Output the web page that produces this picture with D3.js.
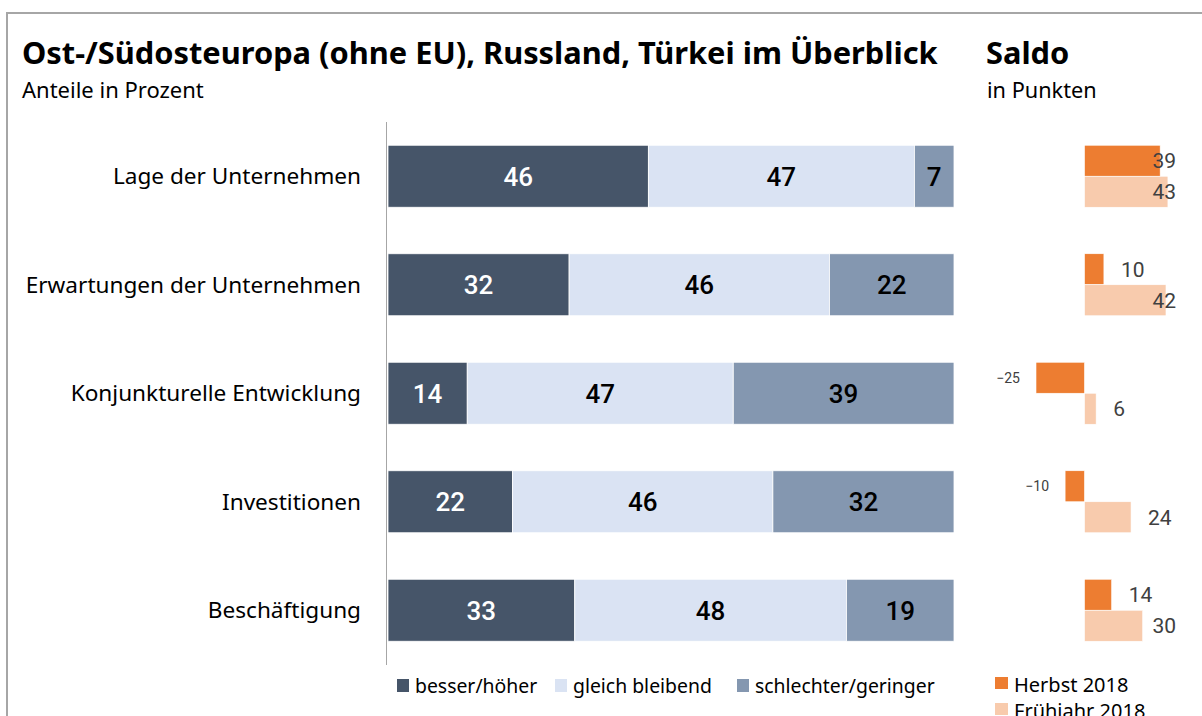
<!DOCTYPE html>
<html lang="de">
<head>
<meta charset="UTF-8">
<title>Ost-/Südosteuropa im Überblick</title>
<script src="https://d3js.org/d3.v7.min.js"></script>
<style>
  body { margin: 0; background: #fff; }
  svg { display: block; font-family: "Noto Sans", sans-serif; }
</style>
</head>
<body>
<div id="chart"></div>
<script>
// data
const categories = ["Lage der Unternehmen", "Erwartungen der Unternehmen", "Konjunkturelle Entwicklung", "Investitionen", "Beschäftigung"];
const besser = [46, 32, 14, 22, 33];
const gleich = [47, 46, 47, 46, 48];
const schlechter = [7, 22, 39, 32, 19];
const herbst = [39, 10, -25, -10, 14];
const fruehjahr = [43, 42, 6, 24, 30];
const stackNames = ["besser/höher", "gleich bleibend", "schlechter/geringer"];
const saldoNames = ["Herbst 2018", "Frühjahr 2018"];

const stackColors = ["#465569", "#dae3f3", "#8497b0"];
const stackText = ["#ffffff", "#000000", "#000000"];
const saldoColors = ["#ed7d31", "#f8cbad"];

const W = 1202, H = 716;
const svg = d3.select("#chart").append("svg").attr("width", W).attr("height", H);

// frame
svg.append("rect")
  .attr("x", 7).attr("y", 13).attr("width", 1300).attr("height", 800)
  .attr("fill", "none").attr("stroke", "#a6a6a6").attr("stroke-width", 2);

// titles
svg.append("text").attr("x", 22).attr("y", 64)
  .style("font-size", "30.8px").style("font-weight", "bold").attr("fill", "#000")
  .text("Ost-/Südosteuropa (ohne EU), Russland, Türkei im Überblick");
svg.append("text").attr("x", 22).attr("y", 98)
  .style("font-size", "22px").attr("fill", "#000").text("Anteile in Prozent");
svg.append("text").attr("x", 986).attr("y", 64)
  .style("font-size", "30.8px").style("font-weight", "bold").attr("fill", "#000").text("Saldo");
svg.append("text").attr("x", 987).attr("y", 98)
  .style("font-size", "21.7px").attr("fill", "#000").text("in Punkten");

// scales
const y = d3.scaleBand().domain(categories).range([122, 664.5]).padding(0);
const barH = 62;
const x = d3.scaleLinear().domain([0, 100]).range([388, 954]);
const xs = d3.scaleLinear().domain([-30, 50]).range([1084.5 - 30 * 1.94, 1084.5 + 50 * 1.94]);

// stacked rows
const rows = categories.map((c, i) => ({ cat: c, vals: [besser[i], gleich[i], schlechter[i]] }));
const segs = [];
rows.forEach(r => {
  let acc = 0;
  r.vals.forEach((v, k) => { segs.push({ cat: r.cat, k: k, v: v, x0: acc, x1: acc + v }); acc += v; });
});

const gBars = svg.append("g");
gBars.selectAll("rect").data(segs).enter().append("rect")
  .attr("x", d => x(d.x0))
  .attr("width", d => x(d.x1) - x(d.x0))
  .attr("y", d => y(d.cat) + (y.bandwidth() - barH) / 2)
  .attr("height", barH)
  .attr("fill", d => stackColors[d.k])
  .attr("stroke", "#fff").attr("stroke-width", 0.8);

gBars.selectAll("text").data(segs).enter().append("text")
  .attr("x", d => x((d.x0 + d.x1) / 2))
  .attr("y", d => y(d.cat) + y.bandwidth() / 2 + 9.5)
  .attr("text-anchor", "middle")
  .style("font-family", "Roboto, sans-serif").style("font-size", "26px").style("font-weight", "500")
  .attr("fill", d => stackText[d.k])
  .text(d => d.v);

// y axis line + category labels
svg.append("line").attr("x1", 386.5).attr("x2", 386.5).attr("y1", 122).attr("y2", 665)
  .attr("stroke", "#a6a6a6").attr("stroke-width", 1);
svg.append("g").selectAll("text").data(categories).enter().append("text")
  .attr("x", 361).attr("y", d => y(d) + y.bandwidth() / 2 + 8)
  .attr("text-anchor", "end").style("font-size", "22.6px").attr("fill", "#000")
  .text(d => d);

// saldo bars
const saldo = [];
categories.forEach((c, i) => {
  saldo.push({ cat: c, s: 0, v: herbst[i] });
  saldo.push({ cat: c, s: 1, v: fruehjahr[i] });
});
const half = barH / 2;
const gS = svg.append("g");
gS.selectAll("rect").data(saldo).enter().append("rect")
  .attr("x", d => xs(Math.min(0, d.v)))
  .attr("width", d => Math.abs(xs(d.v) - xs(0)))
  .attr("y", d => y(d.cat) + (y.bandwidth() - barH) / 2 + d.s * half)
  .attr("height", half)
  .attr("fill", d => saldoColors[d.s])
  .attr("stroke", "#fff").attr("stroke-width", 0.6);

gS.selectAll("text").data(saldo).enter().append("text")
  .attr("y", d => y(d.cat) + (y.bandwidth() - barH) / 2 + d.s * half + half / 2 + (d.v < 0 ? 5 : 7.5))
  .attr("text-anchor", d => d.v < 0 ? "end" : "start")
  .style("font-family", "Roboto, sans-serif")
  .style("font-size", d => d.v < 0 ? "14px" : "21px")
  .attr("fill", "#404040")
  .text(d => d.v < 0 ? "\u2212" + Math.abs(d.v) : d.v)
  .attr("x", function(d) {
    if (d.v < 0) return xs(d.v) - 16;
    const len = this.getComputedTextLength();
    return Math.min(xs(d.v) + 17, 1176 - len);
  });

// legend for stacked bars
const legX = [397, 555, 737];
const gL = svg.append("g");
stackNames.forEach((n, k) => {
  gL.append("rect").attr("x", legX[k]).attr("y", 679).attr("width", 12).attr("height", 13).attr("fill", stackColors[k]);
  gL.append("text").attr("x", legX[k] + 18).attr("y", 693).style("font-size", "19.4px").attr("fill", "#000").text(n);
});

// legend for saldo
saldoNames.forEach((n, s) => {
  gL.append("rect").attr("x", 995).attr("y", 677 + s * 26).attr("width", 13).attr("height", 12).attr("fill", saldoColors[s]);
  gL.append("text").attr("x", 1014).attr("y", 692 + s * 26).style("font-size", "20px").attr("fill", "#000").text(n);
});
</script>
</body>
</html>
